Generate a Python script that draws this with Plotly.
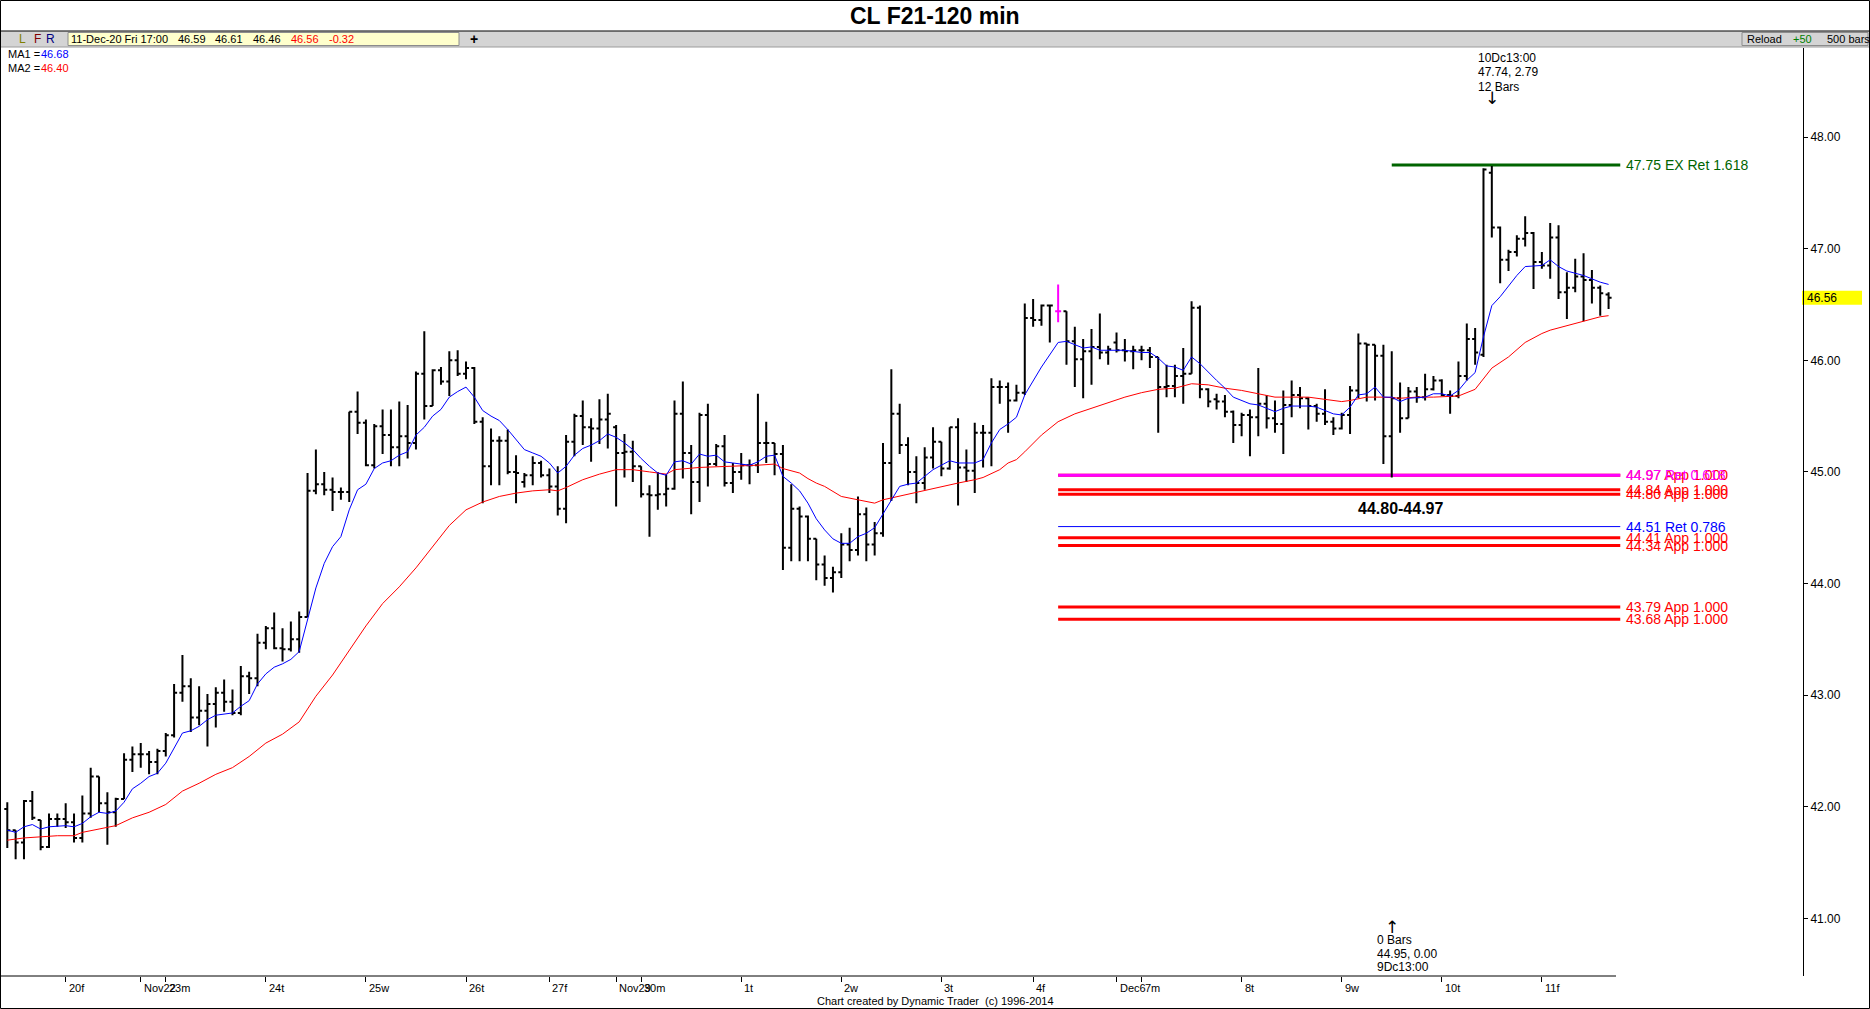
import plotly.graph_objects as go

# ---------------- data ----------------
bar_open = [
 41.98, 41.79, 41.68, 42.05, 41.88, 41.64, 41.89, 41.89, 41.86, 41.72,
 41.94, 42.27, 42.03, 41.95, 42.07, 42.42, 42.47, 42.47, 42.40, 42.50,
 42.64, 43.02, 43.08, 42.80, 42.86, 42.92, 43.02, 42.94, 42.84, 43.17,
 43.15, 43.47, 43.60, 43.42, 43.41, 43.50, 43.70, 44.83, 44.89, 44.84,
 44.82, 44.82, 45.54, 45.44, 45.06, 45.41, 45.33, 45.22, 45.32, 45.26,
 45.88, 45.59, 45.91, 45.81, 46.00, 45.88, 45.93, 45.45, 45.05, 45.28,
 45.28, 45.00, 44.91, 44.97, 45.08, 44.97, 44.87, 44.67, 45.27, 45.50,
 45.40, 45.39, 45.47, 45.40, 45.17, 45.18, 45.05, 44.80, 44.79, 44.80,
 44.85, 45.52, 45.17, 44.91, 45.51, 45.07, 45.23, 44.90, 45.00, 45.06,
 45.06, 45.26, 45.26, 45.16, 44.32, 44.67, 44.60, 44.40, 44.17, 44.05,
 44.10, 44.35, 44.30, 44.62, 44.35, 44.45, 45.08, 45.52, 45.24, 45.00,
 44.90, 45.13, 45.27, 45.03, 45.40, 45.04, 45.01, 45.35, 45.35, 45.76,
 45.76, 45.64, 45.71, 46.38, 46.36, 46.49, 46.44, 46.44, 46.17, 46.01,
 46.08, 46.12, 46.07, 46.16, 46.09, 46.08, 46.09, 46.09, 46.03, 45.76,
 45.77, 45.86, 45.88, 46.47, 45.74, 45.65, 45.63, 45.54, 45.42, 45.51,
 45.49, 45.61, 45.48, 45.43, 45.60, 45.69, 45.66, 45.59, 45.52, 45.45,
 45.39, 45.51, 45.73, 46.15, 46.14, 46.04, 45.32, 45.66, 45.48, 45.72,
 45.67, 45.74, 45.82, 45.69, 45.68, 45.86, 46.19, 46.05, 47.68, 47.19,
 46.90, 46.97, 47.09, 47.14, 46.88, 46.85, 47.10, 46.61, 46.65, 46.75,
 46.72, 46.65, 46.59]
bar_high = [
 42.04, 41.79, 42.06, 42.14, 41.88, 41.94, 41.94, 42.03, 41.94, 42.10,
 42.35, 42.27, 42.13, 42.08, 42.48, 42.54, 42.57, 42.50, 42.52, 42.66,
 43.10, 43.36, 43.15, 43.08, 43.01, 43.07, 43.14, 43.05, 43.26, 43.21,
 43.55, 43.62, 43.74, 43.60, 43.66, 43.75, 44.99, 45.20, 45.00, 44.95,
 44.86, 45.54, 45.72, 45.47, 45.43, 45.56, 45.56, 45.63, 45.60, 45.90,
 46.26, 45.92, 45.94, 46.08, 46.09, 45.99, 45.94, 45.49, 45.39, 45.32,
 45.38, 45.15, 44.99, 45.14, 45.10, 45.03, 45.05, 45.33, 45.52, 45.64,
 45.48, 45.65, 45.70, 45.42, 45.34, 45.28, 45.05, 44.88, 45.00, 44.98,
 45.64, 45.81, 45.24, 45.53, 45.61, 45.25, 45.33, 45.08, 45.17, 45.11,
 45.70, 45.45, 45.26, 45.24, 44.89, 44.69, 44.61, 44.40, 44.25, 44.15,
 44.45, 44.50, 44.78, 44.68, 44.55, 45.26, 45.92, 45.61, 45.31, 45.14,
 45.22, 45.40, 45.27, 45.40, 45.48, 45.20, 45.44, 45.42, 45.84, 45.82,
 45.80, 45.78, 46.51, 46.55, 46.50, 46.50, 46.68, 46.44, 46.30, 46.19,
 46.28, 46.42, 46.13, 46.25, 46.19, 46.13, 46.13, 46.12, 46.03, 45.96,
 45.96, 46.11, 46.53, 46.49, 45.75, 45.70, 45.69, 45.55, 45.53, 45.56,
 45.93, 45.69, 45.64, 45.73, 45.82, 45.76, 45.67, 45.61, 45.74, 45.49,
 45.53, 45.77, 46.24, 46.15, 46.14, 46.14, 46.08, 45.80, 45.76, 45.76,
 45.88, 45.86, 45.83, 45.73, 45.99, 46.33, 46.29, 47.72, 47.74, 47.20,
 46.99, 47.12, 47.29, 47.15, 46.97, 47.23, 47.21, 46.79, 46.91, 46.96,
 46.81, 46.67, 46.61]
bar_low = [
 41.63, 41.53, 41.53, 41.88, 41.61, 41.63, 41.82, 41.81, 41.68, 41.68,
 41.90, 41.95, 41.66, 41.82, 42.07, 42.31, 42.35, 42.29, 42.29, 42.45,
 42.62, 42.94, 42.67, 42.73, 42.54, 42.71, 42.85, 42.82, 42.82, 43.01,
 43.08, 43.41, 43.41, 43.30, 43.39, 43.38, 43.70, 44.80, 44.79, 44.65,
 44.75, 44.73, 45.34, 45.05, 45.03, 45.16, 45.05, 45.05, 45.12, 45.20,
 45.47, 45.59, 45.78, 45.68, 45.86, 45.83, 45.43, 44.72, 44.88, 44.88,
 44.98, 44.72, 44.86, 44.88, 44.95, 44.81, 44.61, 44.54, 45.14, 45.24,
 45.09, 45.25, 45.21, 44.69, 44.95, 44.91, 44.77, 44.42, 44.66, 44.69,
 44.84, 44.94, 44.62, 44.73, 44.87, 45.05, 44.87, 44.81, 44.93, 44.89,
 44.99, 45.08, 44.97, 44.12, 44.20, 44.20, 44.20, 44.03, 43.98, 43.92,
 44.05, 44.20, 44.25, 44.20, 44.25, 44.42, 44.74, 45.16, 44.88, 44.72,
 44.84, 45.03, 44.96, 45.02, 44.70, 44.91, 44.81, 45.04, 45.05, 45.61,
 45.35, 45.63, 45.69, 46.30, 46.31, 46.16, 46.34, 45.96, 45.76, 45.66,
 45.78, 46.01, 45.96, 46.07, 45.99, 45.92, 46.00, 45.93, 45.35, 45.67,
 45.67, 45.61, 45.88, 45.66, 45.58, 45.56, 45.49, 45.26, 45.32, 45.14,
 45.32, 45.39, 45.35, 45.16, 45.49, 45.57, 45.38, 45.45, 45.42, 45.33,
 45.38, 45.34, 45.66, 45.63, 45.64, 45.07, 44.95, 45.35, 45.48, 45.62,
 45.64, 45.73, 45.68, 45.52, 45.66, 45.82, 45.96, 46.03, 47.10, 46.69,
 46.80, 46.93, 47.02, 46.64, 46.82, 46.73, 46.55, 46.37, 46.61, 46.35,
 46.51, 46.40, 46.46]
bar_close = [
 41.79, 41.68, 42.05, 41.90, 41.64, 41.89, 41.89, 41.86, 41.72, 41.94,
 42.27, 42.03, 41.95, 42.07, 42.42, 42.47, 42.47, 42.40, 42.50, 42.64,
 43.02, 43.08, 42.80, 42.86, 42.92, 43.02, 42.94, 42.84, 43.17, 43.15,
 43.47, 43.60, 43.42, 43.41, 43.50, 43.70, 44.83, 44.89, 44.84, 44.82,
 44.82, 45.54, 45.44, 45.06, 45.41, 45.33, 45.22, 45.32, 45.26, 45.88,
 45.59, 45.91, 45.81, 46.00, 45.88, 45.93, 45.45, 45.05, 45.28, 45.28,
 45.00, 44.99, 44.97, 45.08, 44.97, 44.87, 44.67, 45.27, 45.50, 45.40,
 45.39, 45.47, 45.52, 45.17, 45.18, 45.05, 44.80, 44.79, 44.80, 44.85,
 45.52, 45.17, 44.91, 45.51, 45.07, 45.23, 44.90, 45.00, 45.06, 45.06,
 45.26, 45.26, 45.16, 44.32, 44.67, 44.60, 44.40, 44.17, 44.05, 44.10,
 44.35, 44.30, 44.62, 44.35, 44.45, 45.08, 45.52, 45.24, 45.00, 44.90,
 45.13, 45.27, 45.03, 45.40, 45.04, 45.01, 45.35, 45.35, 45.76, 45.76,
 45.64, 45.71, 46.38, 46.36, 46.49, 46.49, 46.44, 46.17, 46.01, 46.08,
 46.12, 46.07, 46.10, 46.09, 46.08, 46.09, 46.09, 46.03, 45.76, 45.77,
 45.86, 45.88, 46.47, 45.74, 45.63, 45.63, 45.54, 45.42, 45.51, 45.49,
 45.61, 45.48, 45.43, 45.60, 45.69, 45.66, 45.59, 45.52, 45.45, 45.39,
 45.51, 45.73, 46.15, 46.14, 46.04, 45.32, 45.66, 45.48, 45.72, 45.67,
 45.74, 45.82, 45.69, 45.68, 45.86, 46.19, 46.07, 47.71, 47.19, 46.90,
 46.97, 47.09, 47.14, 46.88, 46.85, 47.10, 46.61, 46.65, 46.75, 46.72,
 46.65, 46.60, 46.56]
highlight_bar = 126

ma1_x = [0,1,2,3,4,5,7,8,9,10,11,12,13,14,15,16,17,18,19,20,21,22,23,24,25,27,28,29,30,
         31,32,33,34,35,36,37,38,39,40,41,42,43,44,45,46,47,48,49,50,51,52,53,54,55,56,
         57,58,59,60,61,62,63,64,65,66,67,68,69,70,71,72,73,74,75,76,77,78,79,80,81,82,
         83,84,85,86,87,88,89,90,91,92,93,94,95,96,97,98,99,100,101,102,103,104,105,106,
         107,108,109,111,113,114,116,117,118,119,120,121,122,124,126,127,128,129,130,131,
         132,134,136,137,138,139,140,141,142,143,145,146,147,148,149,150,151,152,153,154,
         156,157,158,159,160,161,162,163,164,165,166,167,168,170,171,172,173,174,175,176,
         177,178,179,180,181,182,184,185,186,187,188,189,190,191,192]
ma1_y = [41.79,41.77,41.82,41.84,41.80,41.82,41.83,41.82,41.85,41.91,41.95,41.94,41.96,42.04,
         42.16,42.21,42.27,42.30,42.39,42.52,42.66,42.68,42.72,42.78,42.82,42.84,42.90,42.95,
         43.10,43.19,43.25,43.28,43.32,43.39,43.67,43.96,44.18,44.33,44.42,44.66,44.84,44.89,
         45.03,45.08,45.10,45.15,45.18,45.33,45.40,45.50,45.56,45.67,45.72,45.76,45.67,45.55,
         45.50,45.46,45.38,45.29,45.20,45.17,45.14,45.08,44.99,45.05,45.15,45.21,45.24,45.28,
         45.34,45.31,45.26,45.20,45.12,45.05,44.99,44.97,45.09,45.10,45.07,45.16,45.14,45.15,
         45.09,45.08,45.07,45.06,45.09,45.14,45.15,44.96,44.90,44.83,44.72,44.58,44.48,44.40,
         44.36,44.36,44.42,44.45,44.50,44.62,44.75,44.87,44.89,44.90,45.02,45.10,45.08,45.08,
         45.11,45.26,45.38,45.43,45.49,45.69,45.94,46.16,46.17,46.14,46.11,46.12,46.09,46.09,
         46.09,46.07,46.07,46.02,45.95,45.94,45.91,46.03,45.97,45.82,45.75,45.67,45.64,45.61,
         45.60,45.57,45.54,45.57,45.59,45.59,45.58,45.55,45.52,45.51,45.58,45.69,45.70,45.76,
         45.67,45.67,45.63,45.66,45.67,45.70,45.70,45.68,45.73,45.82,45.89,46.21,46.49,46.57,
         46.67,46.76,46.84,46.85,46.90,46.84,46.80,46.78,46.76,46.73,46.70,46.68]
ma2_x = [0,2,4,6,8,9,11,13,15,17,19,21,23,25,27,29,31,33,35,36,37,39,41,43,45,47,49,51,53,
         55,57,59,61,63,65,66,67,69,71,73,75,77,79,80,83,90,92,93,95,96,97,98,100,102,104,
         105,108,110,112,114,116,117,119,120,121,122,124,126,128,130,132,134,136,138,140,
         142,144,146,148,150,152,154,156,158,160,161,163,165,167,169,171,174,176,178,180,
         182,184,185,187,189,191,192]
ma2_y = [41.70,41.72,41.73,41.74,41.74,41.77,41.80,41.83,41.90,41.95,42.02,42.14,42.21,42.29,
         42.35,42.45,42.57,42.65,42.76,42.87,42.99,43.18,43.40,43.62,43.82,43.97,44.14,44.33,
         44.52,44.66,44.73,44.78,44.81,44.83,44.84,44.83,44.86,44.93,44.98,45.02,45.02,45.00,
         44.98,45.02,45.04,45.06,45.07,45.03,44.99,44.94,44.90,44.87,44.78,44.75,44.72,44.75,
         44.80,44.84,44.87,44.90,44.93,44.95,45.02,45.08,45.11,45.18,45.33,45.45,45.52,45.57,
         45.62,45.67,45.71,45.74,45.75,45.79,45.78,45.75,45.73,45.70,45.67,45.67,45.67,45.65,
         45.63,45.64,45.67,45.67,45.66,45.67,45.67,45.68,45.74,45.93,46.03,46.16,46.24,46.27,
         46.31,46.35,46.39,46.40]

day_tick_bars = [7, 16, 19, 31, 43, 55, 65, 73, 76, 88, 100, 112, 123, 133, 136, 148, 160, 172, 184]
day_tick_labels = ["20f", "Nov22", "23m", "24t", "25w", "26t", "27f", "Nov29", "30m", "1t",
                   "2w", "3t", "4f", "Dec6", "7m", "8t", "9w", "10t", "11f"]
price_ticks = [41, 42, 43, 44, 45, 46, 47, 48]
price_tick_labels = ["41.00", "42.00", "43.00", "44.00", "45.00", "46.00", "47.00", "48.00"]

fib_levels = [47.75, 44.97, 44.97, 44.84, 44.80, 44.51, 44.41, 44.34, 43.79, 43.68]
fib_labels = ["47.75 EX Ret 1.618", "44.97 App 1.000", "44.97 Ret 0.618", "44.84 App 1.000",
              "44.80 App 1.000", "44.51 Ret 0.786", "44.41 App 1.000", "44.34 App 1.000",
              "43.79 App 1.000", "43.68 App 1.000"]
fib_start_bar = [166, 126, 126, 126, 126, 126, 126, 126, 126, 126]
fib_end_bar = 193.4
zone_text = "44.80-44.97"

last_info = ["11-Dec-20 Fri 17:00", "46.59", "46.61", "46.46", "46.56", "-0.32"]
ma1_last, ma2_last = "46.68", "46.40"
last_price = 46.56
swing_high_text = ["10Dc13:00", "47.74, 2.79", "12 Bars"]
swing_low_text = ["0 Bars", "44.95, 0.00", "9Dc13:00"]
swing_high_bar, swing_low_bar = 178, 166

# ---------------- styles / layout ----------------
fib_colors = ["#006400", "#FF0000", "#FF00FF", "#FF0000", "#FF0000", "#0000FF",
              "#FF0000", "#FF0000", "#FF0000", "#FF0000"]
fib_widths = [3, 3, 3, 3, 3, 1, 3, 3, 3, 3]

W, H = 1870, 1009
PL, PR, PT, PB = 1, 1803, 48, 976           # plot area in pixels
X0 = (PL - 7.3) / 8.34                        # bar i sits at pixel 7.3 + 8.34*i
X1 = (PR - 7.3) / 8.34
Y1 = 48 - (PT - 137.1) / 111.6
Y0 = 48 - (PB - 137.1) / 111.6

FONT = "Liberation Sans, Arial, sans-serif"
NARROW = "Liberation Sans Narrow, Arial Narrow, Liberation Sans, sans-serif"


def pxx(x):
    return (x - PL) / (PR - PL)


def pyy(y):
    return (PB - y) / (PB - PT)


def bar_px(i):
    return 7.3 + 8.34 * i


annotations = []
shapes = []


def note(x, y, s, size=11, color="black", anchor="left", family=FONT, xref="paper",
         yref="paper", yanchor="middle"):
    annotations.append(dict(x=x, y=y, xref=xref, yref=yref, text=s, showarrow=False,
                            xanchor=anchor, yanchor=yanchor,
                            font=dict(size=size, color=color, family=family), borderpad=0))


def prect(x0, y0, x1, y1, fill=None, line=None, lw=1, layer="below"):
    shapes.append(dict(type="rect", xref="paper", yref="paper", x0=pxx(x0), x1=pxx(x1),
                       y0=pyy(y1), y1=pyy(y0), fillcolor=fill or "rgba(0,0,0,0)",
                       line=dict(color=line or "rgba(0,0,0,0)", width=lw if line else 0),
                       layer=layer))


def pline(x0, y0, x1, y1, color="black", w=1):
    shapes.append(dict(type="line", xref="paper", yref="paper", x0=pxx(x0), x1=pxx(x1),
                       y0=pyy(y0), y1=pyy(y1), line=dict(color=color, width=w), layer="above"))


# frame pieces
prect(1, 31, 1869, 47, fill="#D4D4D4")
pline(0, 31, 1870, 31, "black", 1)
pline(0, 47, 1870, 47, "#9C9C9C", 1)
prect(68, 32.5, 459, 45.5, fill="#FFFFCC", line="#8C8C8C")
prect(1742, 32.5, 1868, 45.5, line="#8C8C8C")
pline(0.5, PB, 1616, PB, "black", 1)
prect(0.5, 0.5, 1869.5, 1008.5, line="black", layer="above")

# price tag
tag_y = 137.1 + (48 - last_price) * 111.6
prect(1802, tag_y - 7, 1862, tag_y + 7, fill="#FFFF00")
note(pxx(1806), pyy(tag_y), f"{last_price:.2f}", size=12)

# title & header
note(pxx(935), pyy(15.5), "<b>CL F21-120 min</b>", size=23, anchor="center")
for s, xp, c in zip(["L", "F", "R"], [18, 33, 45], ["#808000", "#800000", "#000080"]):
    note(pxx(xp), pyy(39), s, size=12, color=c)
for s, xp, c in zip(last_info, [70, 177, 214, 252, 290, 328],
                    ["black", "black", "black", "black", "#FF0000", "#FF0000"]):
    note(pxx(xp), pyy(39), s, size=11, color=c)
note(pxx(474), pyy(39), "<b>+</b>", size=14, anchor="center")
note(pxx(1746), pyy(39), "Reload", size=11)
note(pxx(1792), pyy(39), "+50", size=11, color="#008000")
note(pxx(1826), pyy(39), "500 bars", size=11)
note(pxx(7), pyy(54), "MA1 =", size=11)
note(pxx(40), pyy(54), ma1_last, size=11, color="#0000FF")
note(pxx(7), pyy(68), "MA2 =", size=11)
note(pxx(40), pyy(68), ma2_last, size=11, color="#FF0000")

# x-axis day labels (left aligned at ticks)
for b, s in zip(day_tick_bars, day_tick_labels):
    note(pxx(bar_px(b) + 2), pyy(988), s, size=11, family=NARROW)
note(pxx(935), pyy(1001), "Chart created by Dynamic Trader  (c) 1996-2014", size=11,
     anchor="center", family=NARROW)

# fib lines and labels
for lvl, s, x0, c, w in zip(fib_levels, fib_labels, fib_start_bar, fib_colors, fib_widths):
    shapes.append(dict(type="line", xref="x", yref="y", x0=x0, x1=fib_end_bar, y0=lvl, y1=lvl,
                       line=dict(color=c, width=w), layer="below"))
    note(194.0, lvl, s, size=14, color=c, xref="x", yref="y")
note(167.1, 44.67, f"<b>{zone_text}</b>", size=16, anchor="center", xref="x", yref="y")

# swing annotations
hx = bar_px(swing_high_bar)
for k, s in enumerate(swing_high_text):
    note(pxx(hx - 15), pyy(57.5 + 14.5 * k), s, size=12)
note(pxx(hx), pyy(98), "↓", size=17, anchor="center", family="DejaVu Sans")
lx = bar_px(swing_low_bar)
note(pxx(lx), pyy(927), "↑", size=17, anchor="center", family="DejaVu Sans")
for k, s in enumerate(swing_low_text):
    note(pxx(lx - 16), pyy(940 + 13.7 * k), s, size=12)

idx = list(range(len(bar_open)))
norm = [i for i in idx if i != highlight_bar]

fig = go.Figure()
fig.add_trace(go.Scatter(x=ma2_x, y=ma2_y, mode="lines", line=dict(color="#FF0000", width=1),
                         hoverinfo="skip"))
fig.add_trace(go.Scatter(x=ma1_x, y=ma1_y, mode="lines", line=dict(color="#0000FF", width=1),
                         hoverinfo="skip"))
fig.add_trace(go.Ohlc(x=norm, open=[bar_open[i] for i in norm], high=[bar_high[i] for i in norm],
                      low=[bar_low[i] for i in norm], close=[bar_close[i] for i in norm],
                      increasing=dict(line=dict(color="black", width=2)),
                      decreasing=dict(line=dict(color="black", width=2)),
                      tickwidth=0.36, hoverinfo="skip"))
h = highlight_bar
fig.add_trace(go.Ohlc(x=[h, h + 1], open=[bar_open[h], None], high=[bar_high[h], None],
                      low=[bar_low[h], None], close=[bar_close[h], None],
                      increasing=dict(line=dict(color="#FF00FF", width=2)),
                      decreasing=dict(line=dict(color="#FF00FF", width=2)),
                      tickwidth=0.36, hoverinfo="skip"))

fig.update_layout(
    width=W, height=H,
    margin=dict(l=PL, r=W - PR, t=PT, b=H - PB, pad=0),
    paper_bgcolor="white", plot_bgcolor="white",
    showlegend=False,
    font=dict(family=FONT, size=11, color="black"),
    shapes=shapes, annotations=annotations,
    xaxis=dict(range=[X0, X1], showgrid=False, zeroline=False, showline=False,
               ticks="outside", ticklen=5, tickcolor="black", tickwidth=1,
               tickvals=day_tick_bars, showticklabels=False,
               rangeslider=dict(visible=False), fixedrange=True),
    yaxis=dict(range=[Y0, Y1], side="right", showgrid=False, zeroline=False,
               showline=True, linecolor="black", linewidth=1, mirror=False,
               ticks="outside", ticklen=4, tickcolor="black",
               tickvals=price_ticks, ticktext=price_tick_labels,
               tickfont=dict(size=12, family=FONT, color="black"), fixedrange=True),
)

fig.write_html("out.html", config={"displayModeBar": False},
               post_script="document.body.style.margin='0px';document.body.style.overflow='hidden';")
